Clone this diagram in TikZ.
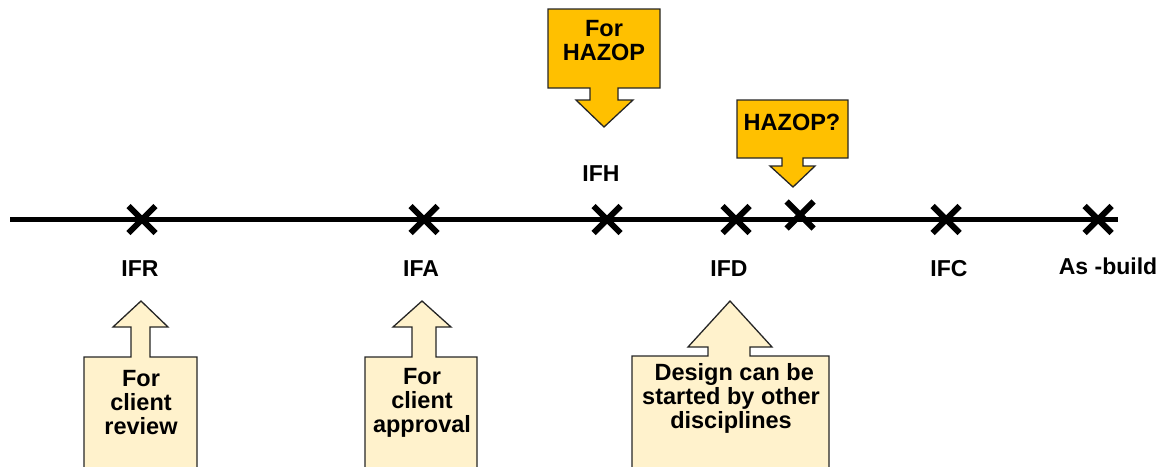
\documentclass[tikz,border=0pt]{standalone}
\usepackage{fontspec}
\setmainfont{Liberation Sans}
\usetikzlibrary{shapes.misc}
\definecolor{hazop}{HTML}{FFC000}
\definecolor{note}{HTML}{FFF2CC}
\begin{document}
\begin{tikzpicture}[x=1pt,y=-1pt,
  lbl/.style={font=\fontsize{23}{24}\selectfont\bfseries, inner sep=0pt},
  ctext/.style={font=\fontsize{23.5}{24}\selectfont\bfseries, align=center, inner sep=0pt},
  goldbox/.style={draw=black!85, line width=1.3pt, fill=hazop, line join=miter},
  creambox/.style={draw=black!85, line width=1.3pt, fill=note, line join=miter},
  xmark/.style={cross out, draw=black, line width=6pt, minimum size=21pt, inner sep=0pt}
]
\useasboundingbox (0,0) rectangle (1161,466);
\clip (0,0) rectangle (1161,466);

% timeline
\coordinate (tstart) at (10,219.5);
\coordinate (tend) at (1118,219.5);
\draw[line width=5pt] (tstart) -- (tend);

% milestones
\node[xmark] (ifr) at (142,219.5) {};
\node[xmark] (ifa) at (424,219.5) {};
\node[xmark] (ifh) at (607,219.5) {};
\node[xmark] (ifd) at (736,219.5) {};
\node[xmark] (hz)  at (800,215) {};
\node[xmark] (ifc) at (946,219.5) {};
\node[xmark] (asb) at (1098,219.5) {};

% milestone labels
\node[lbl] (lifr) at (140,269) {IFR};
\node[lbl] (lifa) at (421,269) {IFA};
\node[lbl] (lifh) at (601,174) {IFH};
\node[lbl] (lifd) at (729,269) {IFD};
\node[lbl] (lifc) at (949,269) {IFC};
\node[lbl] (lasb) at (1108,266) {As -build};

% callouts pointing down (HAZOP)
\draw[goldbox] (548,9) -- (660,9) -- (660,88) -- (618,88) -- (618,100) -- (633,100)
  -- (604,127) -- (576,100) -- (590,100) -- (590,88) -- (548,88) -- cycle;
\node[ctext] (chazop) at (604,41) {For\\HAZOP};

\draw[goldbox] (737,100) -- (848,100) -- (848,158) -- (803,158) -- (803,166) -- (815,166)
  -- (793,187) -- (770,166) -- (782,166) -- (782,158) -- (737,158) -- cycle;
\node[ctext] (chazopq) at (792,122) {HAZOP?};

% callouts pointing up
\draw[creambox] (84,480) -- (84,357) -- (131,357) -- (131,327) -- (113,327) -- (141,301)
  -- (168,327) -- (150,327) -- (150,357) -- (197,357) -- (197,480);
\node[ctext] (creview) at (141,403) {For\\client\\review};

\draw[creambox] (365,480) -- (365,357) -- (412,357) -- (412,327) -- (393,327) -- (422,301)
  -- (451,327) -- (436,327) -- (436,357) -- (477,357) -- (477,480);
\node[ctext] (capproval) at (422,403) {For\\client\\approval};

\draw[creambox] (632,480) -- (632,356) -- (708,356) -- (708,347) -- (688,347) -- (730,301)
  -- (772,347) -- (750,347) -- (750,356) -- (829,356) -- (829,480);
\node[ctext] (cdesign) at (731,398) {\ Design can be\\started by other\\disciplines};
\end{tikzpicture}
\end{document}
